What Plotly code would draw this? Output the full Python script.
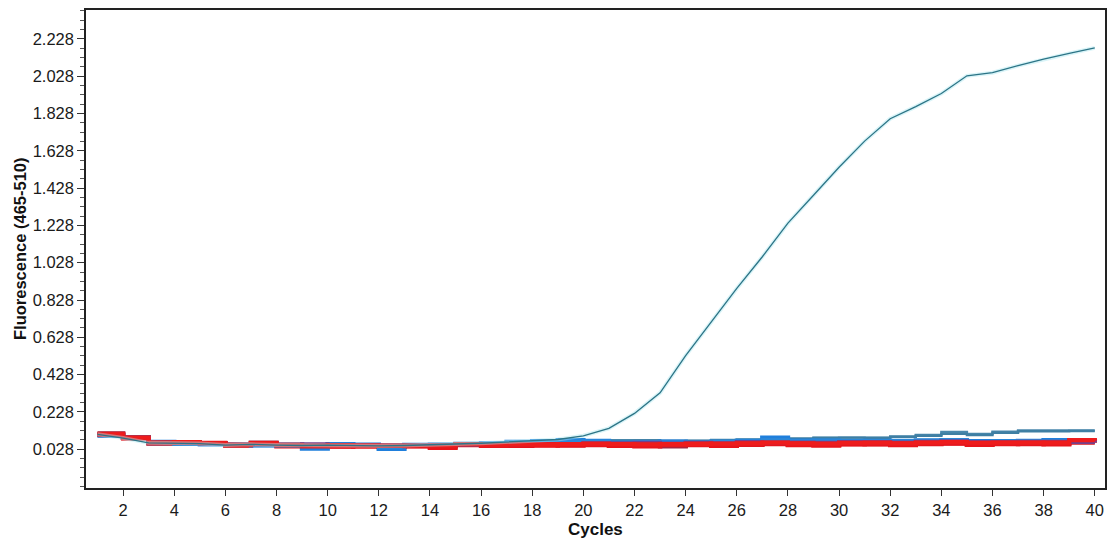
import plotly.graph_objects as go

cycles = list(range(1, 41))

# rising (positive) sample
positive = [0.108, 0.088, 0.062, 0.060, 0.058, 0.050, 0.054, 0.050, 0.048, 0.050,
            0.048, 0.046, 0.048, 0.050, 0.056, 0.060, 0.066, 0.072, 0.080, 0.100,
            0.140, 0.220, 0.330, 0.530, 0.710, 0.890, 1.060, 1.240, 1.390, 1.540,
            1.680, 1.800, 1.865, 1.935, 2.030, 2.047, 2.085, 2.120, 2.150, 2.180]

steel_1 = [0.106, 0.088, 0.062, 0.062, 0.058, 0.050, 0.054, 0.050, 0.048, 0.050,
           0.050, 0.048, 0.048, 0.050, 0.056, 0.058, 0.064, 0.068, 0.072, 0.074,
           0.076, 0.076, 0.074, 0.074, 0.078, 0.080, 0.086, 0.082, 0.090, 0.090,
           0.090, 0.096, 0.104, 0.120, 0.110, 0.122, 0.128, 0.128, 0.128, 0.128]
steel_2 = [0.104, 0.086, 0.060, 0.060, 0.056, 0.050, 0.052, 0.048, 0.046, 0.048,
           0.048, 0.046, 0.046, 0.048, 0.054, 0.056, 0.060, 0.064, 0.066, 0.070,
           0.072, 0.074, 0.070, 0.072, 0.074, 0.078, 0.090, 0.086, 0.088, 0.090,
           0.088, 0.094, 0.100, 0.110, 0.104, 0.116, 0.124, 0.124, 0.126, 0.126]
blue_1 = [0.104, 0.092, 0.066, 0.058, 0.056, 0.052, 0.050, 0.050, 0.032, 0.054,
          0.052, 0.030, 0.050, 0.052, 0.056, 0.058, 0.066, 0.070, 0.076, 0.072,
          0.062, 0.064, 0.068, 0.062, 0.066, 0.072, 0.090, 0.074, 0.068, 0.068,
          0.072, 0.070, 0.072, 0.074, 0.070, 0.070, 0.072, 0.076, 0.074, 0.072]
blue_2 = [0.100, 0.088, 0.060, 0.056, 0.054, 0.050, 0.048, 0.048, 0.040, 0.052,
          0.050, 0.040, 0.048, 0.050, 0.054, 0.056, 0.062, 0.064, 0.068, 0.070,
          0.060, 0.066, 0.064, 0.062, 0.068, 0.070, 0.078, 0.072, 0.076, 0.074,
          0.072, 0.074, 0.076, 0.078, 0.066, 0.070, 0.072, 0.072, 0.070, 0.068]
purple_1 = [0.106, 0.088, 0.062, 0.066, 0.060, 0.052, 0.056, 0.052, 0.054, 0.050,
            0.050, 0.048, 0.048, 0.050, 0.054, 0.052, 0.054, 0.056, 0.056, 0.060,
            0.060, 0.062, 0.058, 0.062, 0.060, 0.066, 0.064, 0.064, 0.062, 0.066,
            0.066, 0.064, 0.068, 0.070, 0.066, 0.066, 0.068, 0.068, 0.066, 0.064]
maroon_1 = [0.112, 0.090, 0.062, 0.064, 0.058, 0.050, 0.062, 0.052, 0.046, 0.048,
            0.048, 0.046, 0.046, 0.048, 0.054, 0.050, 0.054, 0.056, 0.054, 0.058,
            0.058, 0.054, 0.044, 0.060, 0.056, 0.062, 0.066, 0.060, 0.056, 0.062,
            0.064, 0.062, 0.066, 0.068, 0.064, 0.064, 0.066, 0.066, 0.070, 0.068]
red_1 = [0.110, 0.090, 0.058, 0.064, 0.060, 0.050, 0.060, 0.044, 0.042, 0.044,
         0.042, 0.042, 0.044, 0.036, 0.052, 0.046, 0.048, 0.048, 0.050, 0.052,
         0.046, 0.044, 0.050, 0.052, 0.046, 0.054, 0.058, 0.050, 0.048, 0.054,
         0.056, 0.050, 0.058, 0.060, 0.052, 0.056, 0.058, 0.054, 0.070, 0.066]
red_2 = [0.106, 0.086, 0.064, 0.062, 0.062, 0.050, 0.054, 0.050, 0.042, 0.050,
         0.048, 0.046, 0.044, 0.046, 0.054, 0.046, 0.052, 0.056, 0.054, 0.056,
         0.054, 0.052, 0.050, 0.058, 0.054, 0.058, 0.062, 0.058, 0.056, 0.060,
         0.060, 0.058, 0.062, 0.064, 0.060, 0.062, 0.062, 0.064, 0.076, 0.074]
red_3 = [0.104, 0.088, 0.060, 0.060, 0.058, 0.048, 0.056, 0.046, 0.046, 0.042,
         0.046, 0.040, 0.046, 0.042, 0.050, 0.050, 0.046, 0.050, 0.048, 0.050,
         0.050, 0.046, 0.046, 0.050, 0.050, 0.052, 0.056, 0.052, 0.052, 0.056,
         0.054, 0.054, 0.056, 0.058, 0.056, 0.058, 0.056, 0.058, 0.064, 0.062]
red_4 = [0.108, 0.090, 0.062, 0.066, 0.060, 0.052, 0.058, 0.050, 0.048, 0.048,
         0.048, 0.046, 0.048, 0.048, 0.056, 0.052, 0.054, 0.052, 0.056, 0.058,
         0.056, 0.054, 0.056, 0.056, 0.058, 0.060, 0.064, 0.060, 0.058, 0.062,
         0.064, 0.060, 0.064, 0.066, 0.062, 0.064, 0.064, 0.062, 0.078, 0.076]

x_ticks = list(range(2, 41, 2))
y_ticks = [0.028, 0.228, 0.428, 0.628, 0.828, 1.028, 1.228, 1.428, 1.628, 1.828, 2.028, 2.228]
y_tick_text = ["0.028", "0.228", "0.428", "0.628", "0.828", "1.028", "1.228",
               "1.428", "1.628", "1.828", "2.028", "2.228"]

baseline = [
    (steel_1, "#4a88ad", 2.4),
    (steel_2, "#3f7fa3", 2.4),
    (red_3, "#d81820", 4.5),
    (blue_1, "#1f7fdc", 4.5),
    (maroon_1, "#9e2a45", 4.5),
    (red_1, "#e8151b", 4.5),
    (blue_2, "#2a86d8", 4.0),
    (purple_1, "#75408a", 4.0),
    (red_2, "#e31a22", 4.0),
    (red_4, "#ee1c1c", 4.0),
]

fig = go.Figure()
for vals, col, w in baseline:
    fig.add_trace(go.Scatter(x=cycles, y=vals, mode="lines",
                             line=dict(color=col, width=w, shape="hv"),
                             showlegend=False, hoverinfo="skip"))

fig.add_trace(go.Scatter(x=cycles, y=positive, mode="lines",
                         line=dict(color="rgba(170,230,240,0.45)", width=4),
                         showlegend=False, hoverinfo="skip"))
fig.add_trace(go.Scatter(x=cycles, y=positive, mode="lines",
                         line=dict(color="#2c7486", width=1.3),
                         showlegend=False))

axis_font = dict(family="Liberation Sans, Arial, sans-serif", size=16.5, color="#1a1a1a")

fig.update_layout(
    width=1115, height=541,
    margin=dict(l=86, r=8, t=8, b=53),
    paper_bgcolor="white", plot_bgcolor="white",
    xaxis=dict(range=[0.55, 40.4], tickvals=x_ticks, ticks="outside", ticklen=6,
               tickwidth=1, tickcolor="#333", showgrid=False, zeroline=False,
               showline=True, linecolor="#222", linewidth=1.5, mirror=True,
               tickfont=axis_font),
    yaxis=dict(range=[-0.18, 2.383], tickvals=y_ticks, ticktext=y_tick_text,
               ticks="outside", ticklen=7, tickwidth=1, tickcolor="#333",
               minor=dict(tick0=0.028, dtick=0.05, ticks="outside", ticklen=4,
                          tickcolor="#555", showgrid=False),
               showgrid=False, zeroline=False, showline=True, linecolor="#222",
               linewidth=1.5, mirror=True, tickfont=axis_font),
    annotations=[
        dict(text="<b>Fluorescence (465-510)</b>", xref="paper", yref="paper",
             x=0, y=0.5, xanchor="center", yanchor="middle", xshift=-66,
             textangle=-90, showarrow=False,
             font=dict(family="Liberation Sans, Arial, sans-serif", size=16.5, color="#111")),
        dict(text="<b>Cycles</b>", xref="paper", yref="paper",
             x=0.5, y=0, xanchor="center", yanchor="middle", yshift=-41,
             showarrow=False,
             font=dict(family="Liberation Sans, Arial, sans-serif", size=17, color="#111")),
    ],
)

fig.write_html("out.html")
